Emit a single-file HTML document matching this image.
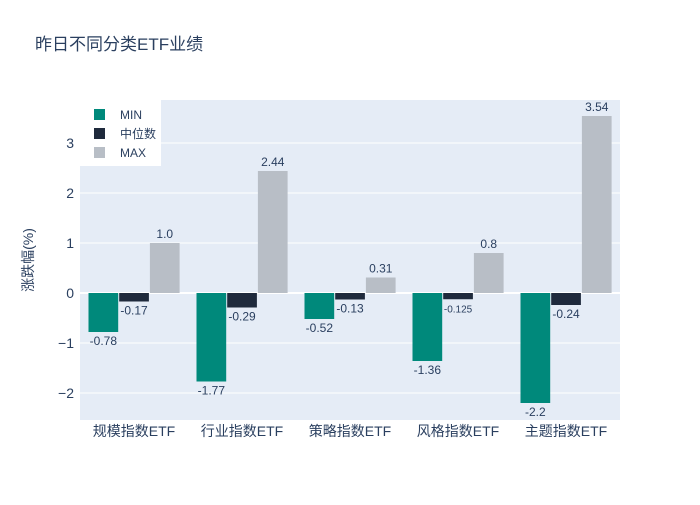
<!DOCTYPE html>
<html><head><meta charset="utf-8"><style>
body{margin:0;background:#fff;}
svg text{font-family:"Liberation Sans","Noto Sans CJK SC",sans-serif;fill:#2a3f5f;}
</style></head><body>
<svg id="c" width="700" height="500">
<text x="35" y="50" font-size="17">昨日不同分类ETF业绩</text>
<rect x="80" y="100" width="540" height="320" fill="#e5ecf6"/>
<g id="grid"></g><g id="bars"></g><g id="labels"></g>
<text transform="translate(33,260) rotate(-90)" text-anchor="middle" font-size="14">涨跌幅(%)</text>
<g>
<rect x="80" y="100" width="81" height="66" fill="#fff"/>
<rect x="94" y="109" width="11" height="11" fill="#00897b"/>
<text x="120" y="119" font-size="12">MIN</text>
<rect x="94" y="128" width="11" height="11" fill="#1f2a3c"/>
<text x="120" y="138" font-size="12">中位数</text>
<rect x="94" y="147" width="11" height="11" fill="#b8bec6"/>
<text x="120" y="157" font-size="12">MAX</text>
</g>
</svg>
<script>
const categories=["规模指数ETF","行业指数ETF","策略指数ETF","风格指数ETF","主题指数ETF"];
const minVals=[-0.78,-1.77,-0.52,-1.36,-2.2];
const medVals=[-0.17,-0.29,-0.13,-0.125,-0.24];
const maxVals=[1.0,2.44,0.31,0.8,3.54];
const minLabels=["-0.78","-1.77","-0.52","-1.36","-2.2"];
const medLabels=["-0.17","-0.29","-0.13","-0.125","-0.24"];
const maxLabels=["1.0","2.44","0.31","0.8","3.54"];
const yTicks=[-2,-1,0,1,2,3];
const yTickLabels=["−2","−1","0","1","2","3"];
const NS="http://www.w3.org/2000/svg";
const y=v=>293-v*50;
const xc=i=>80+108*(i+0.5);
function el(t,a,p){const e=document.createElementNS(NS,t);for(const k in a)e.setAttribute(k,a[k]);document.getElementById(p).appendChild(e);return e;}
yTicks.forEach((t,i)=>{
 const l=el('line',{x1:80,x2:620,y1:y(t),y2:y(t),stroke:'#fff','stroke-width':t===0?2:1},'grid');
 
 
 const tx=el('text',{x:74,y:y(t)+5,'text-anchor':'end','font-size':14},'grid');tx.textContent=yTickLabels[i];
 
 
});
const series=[[minVals,minLabels,'#00897b','min'],[medVals,medLabels,'#1f2a3c','median'],[maxVals,maxLabels,'#b8bec6','max']];
const bw=30.7;
categories.forEach((c,i)=>{
 const t=el('text',{x:xc(i),y:436,'text-anchor':'middle','font-size':14},'labels');t.textContent=c;
 
 
 series.forEach((s,j)=>{
  const v=s[0][i];const x0=xc(i)-46+j*bw;
  const r=el('rect',{x:x0+0.5,y:Math.min(y(v),y(0)),width:bw-1,height:Math.abs(y(v)-y(0)),fill:s[2]},'bars');
  
  
  const small=s[1][i].length>5;
  const lt=el('text',{x:x0+bw/2,y:v>=0?y(v)-5:y(v)+13,'text-anchor':'middle','font-size':small?10:12},'labels');lt.textContent=s[1][i];
  
  
 });
});
</script>
</body></html>
